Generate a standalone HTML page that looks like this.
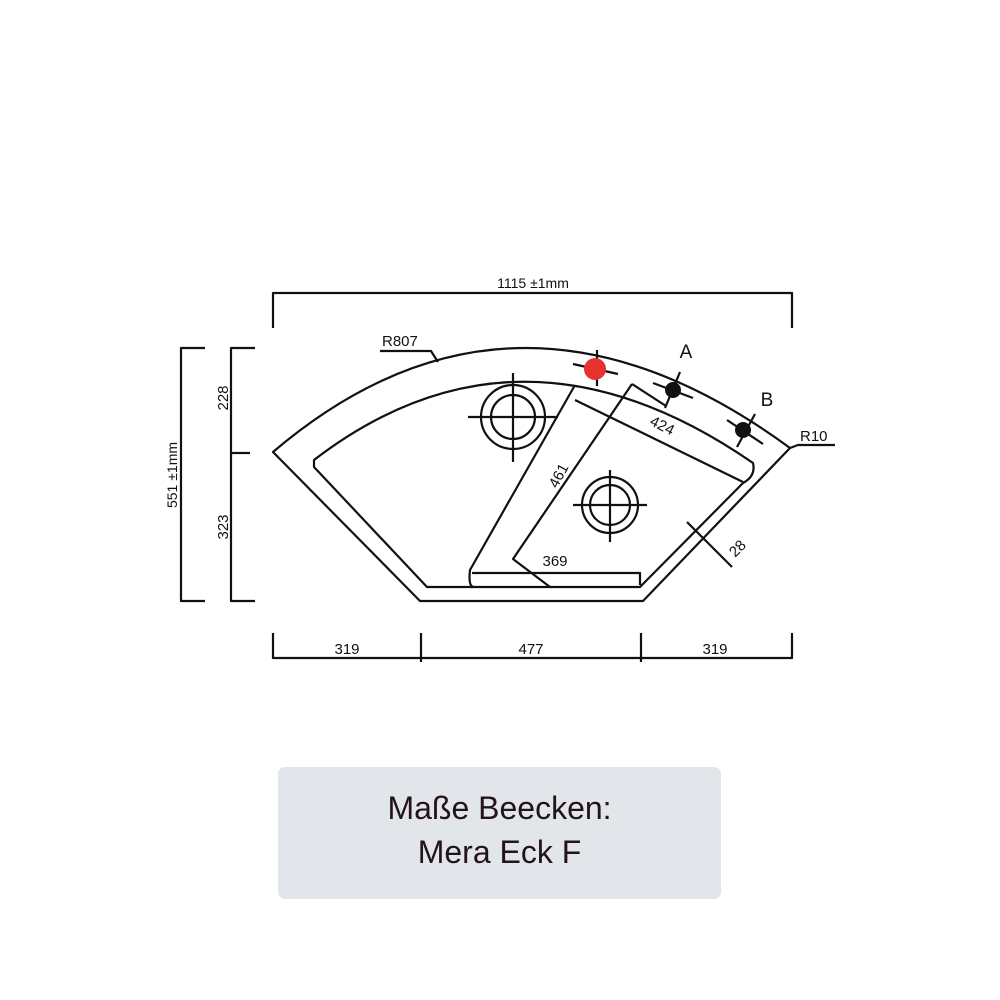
<!DOCTYPE html>
<html><head><meta charset="utf-8"><style>
html,body{margin:0;padding:0;background:#fff;width:1000px;height:1000px;overflow:hidden}
.box{position:absolute;left:278px;top:767px;width:443px;height:132px;background:#e2e6ea;border-radius:7px}
.t{position:absolute;left:278px;width:443px;text-align:center;font-family:"Liberation Sans",sans-serif;font-size:32px;color:#231416}
</style></head><body>
<svg width="1000" height="1000" style="position:absolute;left:0;top:0" xmlns="http://www.w3.org/2000/svg">
<g fill="none" stroke="#111" stroke-width="2.2" stroke-linejoin="round">
<path d="M273 328 V293 H792 V328"/>
<path d="M205 348 H181 V601 H205"/>
<path d="M255 348 H231 V601 H255 M231 453 H250"/>
<path d="M273 633 V658 H792 V633 M421 633 V662 M641 633 V662"/>
<path d="M273 452 Q515 246 790 448 L643 601 L420 601 Z"/>
<path d="M314 460 Q520 302 753 463 Q756 476 743 483 L640 587 L427 587 L314 467 Z"/>
<path d="M575 385 L470 570 Q468 587 474 587"/>
<path d="M472 573 H640 V585"/>
<path d="M632 384 L513 559 L550 587"/>
<path d="M632 384 L666 406"/>
<path d="M575 400 L743 482"/>
<circle cx="513" cy="417" r="32"/><circle cx="513" cy="417" r="22"/>
<path d="M468 417 H558 M513 373 V462"/>
<circle cx="610" cy="505" r="28"/><circle cx="610" cy="505" r="20"/>
<path d="M573 505 H647 M610 470 V542"/>
<path d="M573 364 L618 374 M597 350 V386"/>
<path d="M653 383 L693 398 M680 372 L665 408"/>
<path d="M727 420 L763 444 M755 414 L737 447"/>
<path d="M380 351 H431 L438 362"/>
<path d="M790 448 L798 445 H835"/>
<path d="M687 522 L732 567"/>
</g>
<circle cx="595" cy="369" r="11" fill="#e8322e"/>
<circle cx="673" cy="390" r="8" fill="#111"/>
<circle cx="743" cy="430" r="8" fill="#111"/>
<g font-family="Liberation Sans,sans-serif" font-size="15" fill="#111">
<text x="533" y="288" text-anchor="middle" font-size="14">1115 ±1mm</text>
<text x="382" y="346" font-size="15">R807</text>
<text x="686" y="358" text-anchor="middle" font-size="19">A</text>
<text x="767" y="406" text-anchor="middle" font-size="19">B</text>
<text x="800" y="441" font-size="15">R10</text>
<text x="347" y="654" text-anchor="middle">319</text>
<text x="531" y="654" text-anchor="middle">477</text>
<text x="715" y="654" text-anchor="middle">319</text>
<text x="555" y="566" text-anchor="middle">369</text>
<text transform="translate(660,430) rotate(27)" text-anchor="middle">424</text>
<text transform="translate(563,478) rotate(-62)" text-anchor="middle">461</text>
<text transform="translate(741,552) rotate(-45)" text-anchor="middle">28</text>
<text transform="translate(177,475) rotate(-90)" text-anchor="middle" font-size="14">551 ±1mm</text>
<text transform="translate(228,398) rotate(-90)" text-anchor="middle">228</text>
<text transform="translate(228,527) rotate(-90)" text-anchor="middle">323</text>
</g>
</svg>
<div class="box"></div>
<div class="t" style="top:790px">Maße Beecken:</div>
<div class="t" style="top:834px">Mera Eck F</div>
</body></html>
